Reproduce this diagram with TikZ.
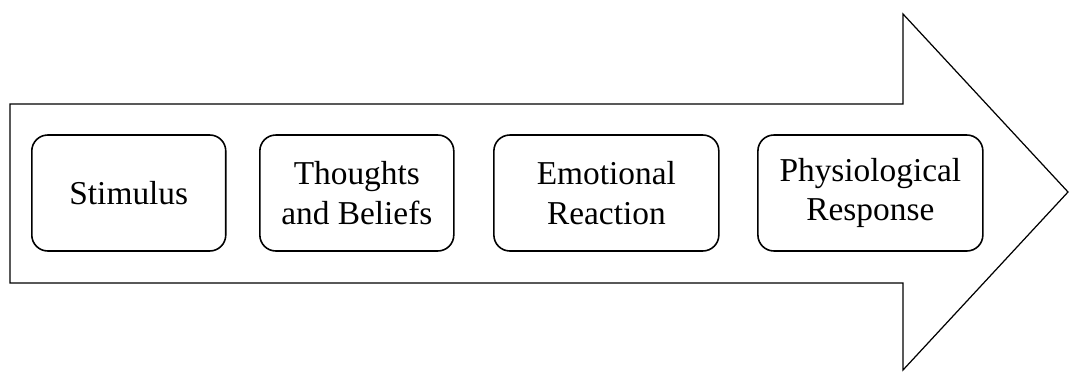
\documentclass[tikz,border=0pt]{standalone}
\usepackage{fontspec}
\setmainfont{Liberation Serif}
\usetikzlibrary{positioning}

\begin{document}
\begin{tikzpicture}[
  x=0.02cm, y=-0.02cm,
  stage/.style={draw=black, line width=0.9pt, rounded corners=0.32cm, align=center, font=\fontsize{19}{22.7}\selectfont, minimum height=2.32cm, inner sep=2pt},
  narrow/.style={stage, minimum width=3.88cm},
  wide/.style={stage, minimum width=4.5cm},
  bigarrow/.style={draw=black, line width=0.7pt, fill=white}
]
  \useasboundingbox (0,0) rectangle (1070,372);

  % Big arrow (behind)
  \draw[bigarrow] (10,104) -- (903,104) -- (903,14) -- (1068,192) -- (903,370) -- (903,283) -- (10,283) -- cycle;

  % Stages
  \node[narrow, anchor=west] (stim) at (31,193) {Stimulus};
  \node[narrow, right=0.65cm of stim] (thought) {Thoughts\\and Beliefs};
  \node[wide, right=0.77cm of thought] (emotion) {Emotional\\Reaction};
  \node[wide, right=0.75cm of emotion] (physio) {Physiological\\Response};

\end{tikzpicture}
\end{document}
